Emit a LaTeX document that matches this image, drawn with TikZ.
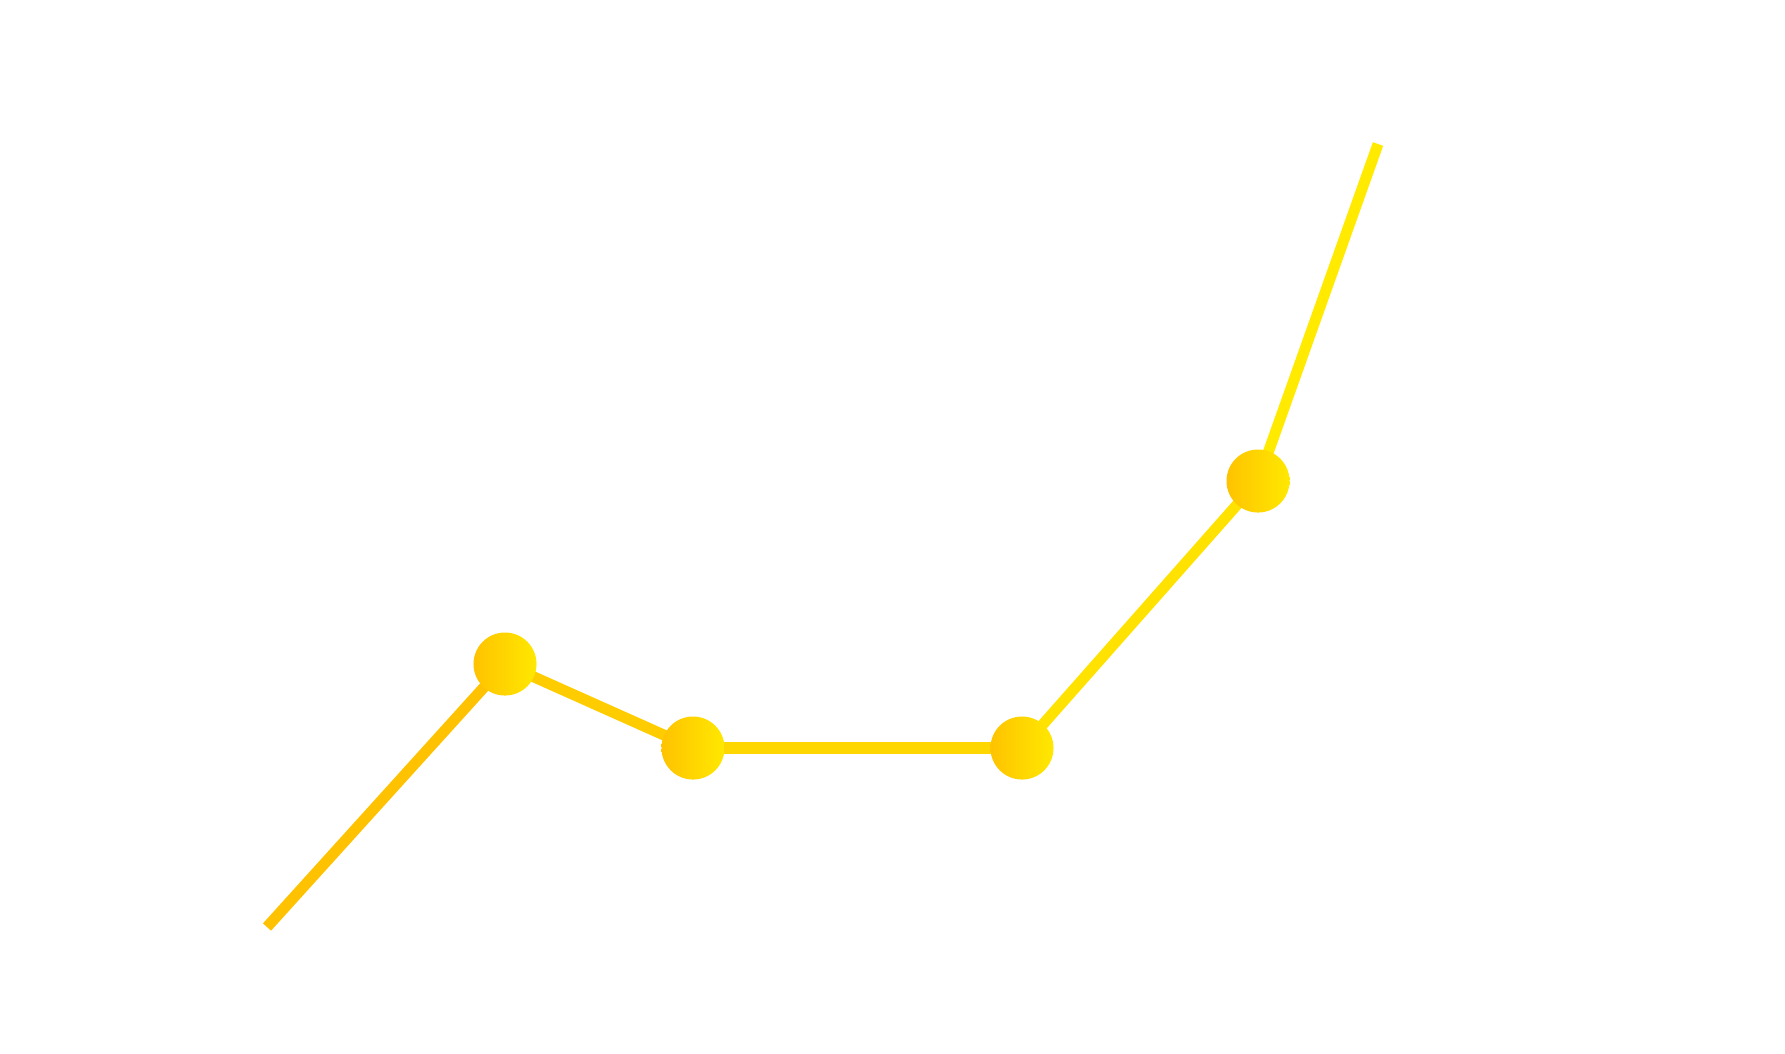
\documentclass[tikz,border=0pt]{standalone}
\usepackage{tikz}
\usepackage{xcolor}
\usetikzlibrary{positioning,calc,backgrounds}
\definecolor{dotL}{HTML}{FFC300}
\definecolor{dotR}{HTML}{FFE800}
\definecolor{segA}{HTML}{FFC200}
\definecolor{segB}{HTML}{FFCC00}
\definecolor{segC}{HTML}{FFD700}
\definecolor{segD}{HTML}{FFE200}
\definecolor{segE}{HTML}{FFEA00}
\newcommand{\dotnode}[2]{\node [dot] (#1) at (#2) {}}

\begin{document}
\begin{tikzpicture}[x=0.01cm, y=-0.01cm,
  dot/.style={circle, inner sep=0pt, minimum size=0.63cm, left color=dotL, right color=dotR},
  seg/.style={line width=3.1pt}]
\useasboundingbox (0,0) rectangle (1785,1053);

\coordinate (START) at (267,927);
\coordinate (END) at (1378,144);

\dotnode{P1}{505,664};
\dotnode{P2}{693,748};
\dotnode{P3}{1022,748};
\dotnode{P4}{1258,481};

\begin{scope}[on background layer]
\draw[seg, segA] (START) -- (P1.center);
\draw[seg, segB] (P1.center) -- (P2.center);
\draw[seg, segC, line width=3.4pt] (P2.center) -- (P3.center);
\draw[seg, segD] (P3.center) -- (P4.center);
\draw[seg, segE] (P4.center) -- (END);
\end{scope}

\end{tikzpicture}
\end{document}
